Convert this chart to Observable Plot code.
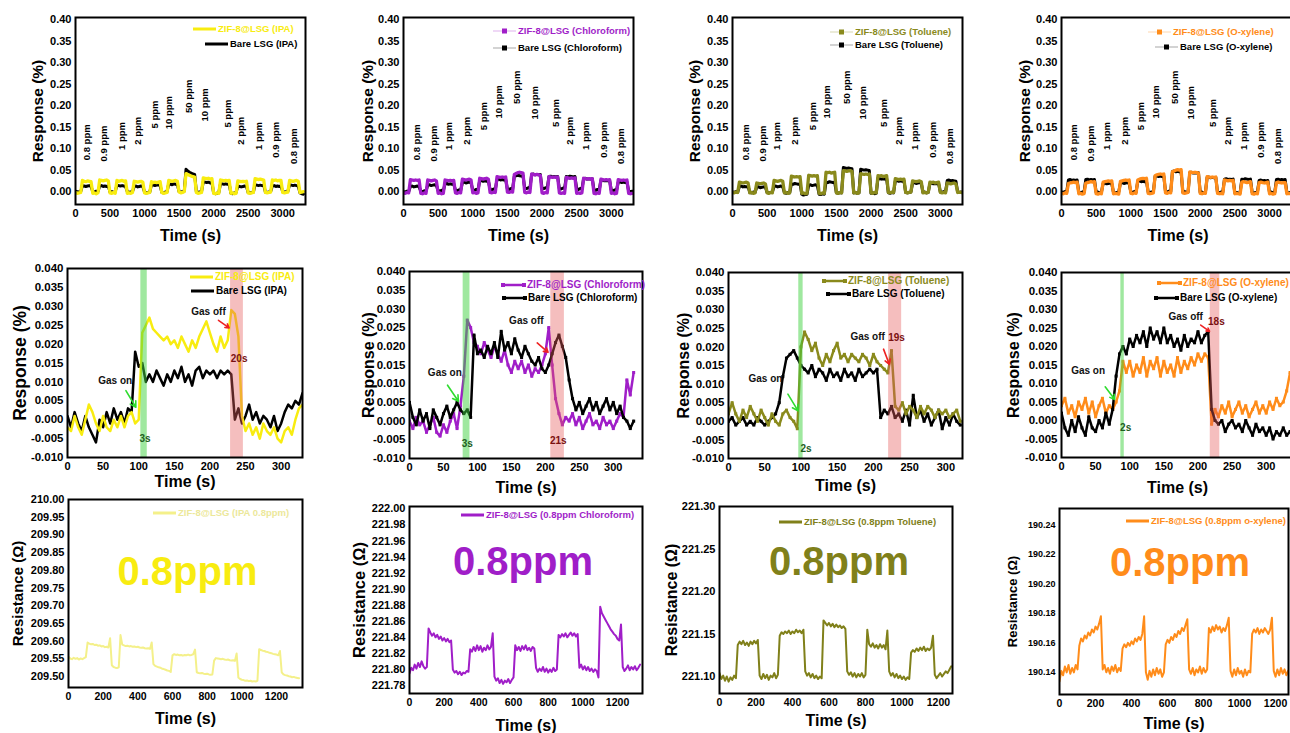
<!DOCTYPE html>
<html><head><meta charset="utf-8">
<script src="https://cdn.jsdelivr.net/npm/d3@7"></script>
<script src="https://cdn.jsdelivr.net/npm/@observablehq/plot@0.6"></script>
<style>
body{margin:0;background:#fff;}
#fig{position:relative;width:1290px;height:733px;overflow:hidden;background:#fff;font-family:Arial,"Liberation Sans",sans-serif;font-weight:bold;}
.leg{position:absolute;display:flex;align-items:center;height:10px;white-space:nowrap;font-weight:bold;line-height:1;}
</style></head><body><div id="fig"></div>
<script>
// ---------- colours ----------
const YEL = "#f8ec10", PUR = "#a01ec8", OLV = "#8a8a1c", ORG = "#ff8c1a";
const YEL_PALE = "#f4f08a", OLV3 = "#80801a";

// ---------- row 1: concentration sweep, 25 s samples, 0-3300 s ----------
const T1 = d3.range(0, 3301, 25);
const ppmLabels = ["0.8 ppm","0.9 ppm","1 ppm","2 ppm","5 ppm","10 ppm","50 ppm","10 ppm","5 ppm","2 ppm","1 ppm","0.9 ppm","0.8 ppm"];
const ppmXIpa = [160,408,670,900,1150,1355,1645,1880,2210,2390,2650,2900,3160];
const ppmXChl = [192,442,658,912,1162,1378,1642,1891,2194,2400,2640,2890,3139];
const ppmXTol = [192,446,648,898,1162,1368,1656,1882,2184,2400,2640,2894,3144];
const ppmXXyl = [182,431,651,910,1150,1365,1638,1868,2184,2395,2635,2874,3128];
const ppmYIpa = [0.073,0.070,0.097,0.109,0.147,0.145,0.183,0.163,0.149,0.109,0.097,0.079,0.064];
const ppmYOther = [0.073,0.070,0.097,0.109,0.143,0.170,0.204,0.168,0.150,0.109,0.097,0.079,0.064];

const r1IpaZif = [
-0.002,-0.004,-0.003,-0.002,0.026,0.024,0.023,0.025,0.024,0.023,
-0.004,-0.003,-0.005,-0.003,0.027,0.026,0.025,0.026,0.027,0.025,
-0.003,-0.004,-0.002,-0.004,0.026,0.024,0.025,0.026,0.024,0.025,
-0.004,-0.003,-0.004,-0.002,0.024,0.023,0.022,0.023,0.024,0.022,
-0.003,-0.004,-0.003,-0.002,0.023,0.021,0.022,0.021,0.022,0.023,
-0.002,-0.004,-0.003,-0.002,0.026,0.025,0.024,0.025,0.026,0.024,
-0.001,-0.003,-0.002,0.000,0.042,0.040,0.038,0.036,0.035,0.034,
-0.002,-0.004,-0.003,-0.002,0.032,0.031,0.030,0.031,0.029,0.030,
-0.004,-0.005,-0.003,-0.004,0.027,0.026,0.025,0.026,0.025,0.026,
-0.004,-0.003,-0.005,-0.004,0.025,0.024,0.023,0.024,0.023,0.024,
-0.003,-0.004,-0.003,-0.002,0.030,0.029,0.028,0.029,0.028,0.027,
-0.002,-0.003,-0.002,-0.001,0.027,0.026,0.027,0.025,0.026,0.026,
-0.002,-0.003,-0.002,-0.001,0.026,0.025,0.024,0.025,0.026,0.024,
-0.002,-0.001,0.000];
const r1IpaBare = [
0.001,0.000,-0.001,0.000,0.014,0.013,0.012,0.013,0.014,0.012,
0.000,-0.001,0.001,0.000,0.013,0.014,0.012,0.013,0.012,0.013,
-0.001,0.000,-0.002,0.000,0.015,0.014,0.013,0.014,0.013,0.012,
0.000,-0.002,-0.001,0.000,0.012,0.013,0.011,0.012,0.013,0.012,
-0.001,-0.003,-0.002,-0.001,0.016,0.015,0.014,0.015,0.016,0.014,
-0.002,-0.003,-0.001,0.000,0.018,0.017,0.016,0.018,0.017,0.016,
0.000,-0.001,0.000,0.001,0.052,0.048,0.045,0.043,0.041,0.040,
0.000,-0.002,-0.001,0.000,0.023,0.022,0.021,0.022,0.020,0.021,
-0.003,-0.005,-0.004,-0.002,0.019,0.018,0.017,0.018,0.017,0.018,
-0.004,-0.005,-0.003,-0.002,0.013,0.012,0.011,0.012,0.013,0.012,
-0.002,-0.003,-0.002,-0.001,0.016,0.015,0.014,0.015,0.014,0.015,
-0.001,-0.002,-0.001,0.000,0.013,0.014,0.012,0.013,0.012,0.013,
0.000,-0.001,0.000,0.001,0.016,0.015,0.014,0.015,0.014,0.013,
-0.003,-0.005,-0.006];
const r1ChlZif = [
-0.003,-0.004,-0.002,-0.003,0.028,0.027,0.026,0.027,0.026,0.027,
-0.004,-0.005,-0.003,-0.004,0.027,0.026,0.025,0.026,0.027,0.025,
-0.004,-0.003,-0.005,-0.004,0.027,0.026,0.025,0.026,0.025,0.026,
-0.003,-0.004,-0.002,-0.003,0.029,0.028,0.027,0.028,0.029,0.027,
-0.003,-0.002,-0.004,-0.003,0.031,0.030,0.029,0.030,0.031,0.029,
-0.002,-0.003,-0.001,-0.002,0.035,0.034,0.033,0.034,0.033,0.034,
-0.001,-0.002,0.000,-0.001,0.040,0.042,0.044,0.045,0.044,0.043,
-0.002,-0.003,-0.001,-0.002,0.041,0.040,0.039,0.040,0.039,0.038,
-0.003,-0.004,-0.002,-0.003,0.035,0.034,0.033,0.034,0.033,0.034,
-0.003,-0.004,-0.003,-0.004,0.033,0.032,0.031,0.032,0.031,0.032,
-0.004,-0.003,-0.004,-0.003,0.031,0.030,0.029,0.030,0.029,0.030,
-0.004,-0.005,-0.003,-0.004,0.029,0.028,0.027,0.028,0.027,0.028,
-0.004,-0.003,-0.005,-0.004,0.028,0.027,0.026,0.027,0.026,0.027,
-0.004,-0.005,-0.004];
const r1ChlBare = [
0.000,-0.001,0.001,0.000,0.012,0.013,0.011,0.012,0.013,0.011,
0.001,0.000,0.002,0.001,0.015,0.016,0.014,0.015,0.016,0.014,
0.002,0.001,0.003,0.002,0.018,0.019,0.017,0.018,0.017,0.018,
0.003,0.002,0.004,0.003,0.021,0.022,0.020,0.021,0.022,0.020,
0.004,0.003,0.005,0.004,0.025,0.026,0.024,0.025,0.024,0.025,
0.005,0.004,0.006,0.005,0.028,0.029,0.027,0.028,0.027,0.028,
0.006,0.005,0.007,0.006,0.036,0.037,0.038,0.037,0.036,0.037,
0.008,0.007,0.009,0.008,0.040,0.041,0.039,0.040,0.039,0.040,
0.008,0.007,0.009,0.008,0.035,0.036,0.034,0.035,0.034,0.035,
0.007,0.006,0.008,0.007,0.035,0.034,0.036,0.035,0.034,0.035,
0.006,0.005,0.007,0.006,0.030,0.031,0.029,0.030,0.029,0.030,
0.004,0.003,0.005,0.004,0.026,0.027,0.025,0.026,0.025,0.026,
0.003,0.002,0.004,0.003,0.022,0.023,0.021,0.022,0.021,0.022,
0.002,0.000,0.001];
const r1TolZif = [
-0.002,-0.003,-0.001,-0.002,0.022,0.021,0.020,0.021,0.022,0.020,
-0.003,-0.002,-0.004,-0.003,0.020,0.019,0.018,0.019,0.020,0.018,
-0.003,-0.004,-0.002,-0.003,0.026,0.025,0.024,0.025,0.026,0.024,
-0.003,-0.002,-0.004,-0.003,0.036,0.035,0.034,0.035,0.034,0.035,
-0.004,-0.003,-0.005,-0.004,0.038,0.037,0.036,0.037,0.036,0.037,
-0.004,-0.005,-0.003,-0.004,0.045,0.044,0.045,0.043,0.044,0.045,
-0.003,-0.004,-0.002,-0.003,0.049,0.048,0.047,0.048,0.049,0.047,
-0.003,-0.002,-0.004,-0.003,0.042,0.041,0.040,0.041,0.040,0.041,
-0.003,-0.004,-0.002,-0.003,0.037,0.036,0.037,0.035,0.036,0.037,
-0.002,-0.003,-0.001,-0.002,0.030,0.029,0.028,0.029,0.028,0.029,
-0.002,-0.003,-0.002,-0.001,0.025,0.024,0.023,0.024,0.025,0.023,
-0.003,-0.002,-0.003,-0.002,0.022,0.021,0.022,0.020,0.021,0.022,
-0.002,-0.003,-0.002,-0.003,0.020,0.019,0.018,0.019,0.020,0.018,
-0.002,-0.001,-0.002];
const r1TolBare = [
-0.001,-0.002,0.000,-0.001,0.012,0.013,0.011,0.012,0.011,0.012,
-0.002,-0.003,-0.001,-0.002,0.010,0.011,0.009,0.010,0.011,0.010,
-0.002,-0.003,-0.002,-0.001,0.012,0.013,0.011,0.012,0.013,0.011,
-0.003,-0.004,-0.002,-0.003,0.018,0.017,0.019,0.018,0.017,0.018,
-0.006,-0.008,-0.007,-0.006,0.015,0.016,0.014,0.015,0.016,0.014,
-0.006,-0.007,-0.005,-0.006,0.022,0.021,0.023,0.022,0.021,0.022,
-0.003,-0.004,-0.002,-0.003,0.056,0.055,0.054,0.055,0.054,0.053,
-0.003,-0.002,-0.004,-0.003,0.052,0.051,0.050,0.051,0.050,0.049,
-0.004,-0.003,-0.005,-0.004,0.031,0.030,0.029,0.030,0.029,0.030,
-0.003,-0.004,-0.002,-0.003,0.025,0.026,0.024,0.025,0.024,0.025,
-0.002,-0.003,-0.002,-0.001,0.020,0.021,0.019,0.020,0.021,0.019,
-0.002,-0.001,-0.003,-0.002,0.019,0.020,0.018,0.019,0.018,0.019,
-0.001,-0.002,0.000,-0.001,0.026,0.027,0.025,0.026,0.025,0.024,
-0.001,-0.002,-0.001];
const r1XylZif = [
-0.004,-0.005,-0.003,-0.004,0.019,0.020,0.021,0.022,0.021,0.022,
-0.005,-0.004,-0.006,-0.005,0.020,0.021,0.022,0.023,0.022,0.023,
-0.005,-0.006,-0.004,-0.005,0.022,0.023,0.024,0.025,0.024,0.025,
-0.005,-0.004,-0.005,-0.006,0.024,0.025,0.026,0.027,0.026,0.027,
-0.004,-0.005,-0.003,-0.004,0.027,0.029,0.030,0.031,0.030,0.031,
-0.004,-0.005,-0.004,-0.003,0.037,0.039,0.040,0.041,0.040,0.041,
-0.003,-0.004,-0.002,-0.003,0.046,0.048,0.050,0.051,0.050,0.051,
-0.003,-0.004,-0.003,-0.002,0.046,0.045,0.044,0.045,0.044,0.043,
-0.004,-0.005,-0.003,-0.004,0.035,0.034,0.033,0.034,0.033,0.034,
-0.004,-0.005,-0.004,-0.005,0.027,0.026,0.025,0.026,0.025,0.026,
-0.005,-0.004,-0.005,-0.006,0.022,0.023,0.022,0.021,0.022,0.023,
-0.005,-0.006,-0.004,-0.005,0.021,0.022,0.021,0.020,0.021,0.022,
-0.005,-0.004,-0.006,-0.005,0.021,0.022,0.021,0.020,0.021,0.021,
-0.005,-0.004,-0.005];
const r1XylBare = [
-0.001,-0.002,0.000,-0.001,0.027,0.028,0.026,0.027,0.026,0.027,
-0.002,-0.003,-0.001,-0.002,0.028,0.029,0.027,0.028,0.027,0.028,
-0.002,-0.001,-0.003,-0.002,0.019,0.020,0.018,0.019,0.020,0.018,
-0.002,-0.003,-0.002,-0.001,0.020,0.021,0.019,0.020,0.021,0.019,
-0.001,-0.002,0.000,-0.001,0.024,0.025,0.023,0.024,0.023,0.024,
-0.001,-0.002,-0.001,0.000,0.036,0.037,0.035,0.036,0.035,0.036,
0.000,-0.001,0.001,0.000,0.047,0.048,0.046,0.047,0.046,0.045,
-0.001,0.000,-0.002,-0.001,0.044,0.045,0.043,0.044,0.043,0.044,
-0.002,-0.001,-0.003,-0.002,0.033,0.034,0.032,0.033,0.032,0.033,
-0.002,-0.003,-0.001,-0.002,0.029,0.030,0.028,0.029,0.028,0.029,
-0.003,-0.002,-0.004,-0.003,0.029,0.028,0.030,0.029,0.028,0.029,
-0.002,-0.003,-0.002,-0.001,0.026,0.027,0.025,0.026,0.025,0.026,
-0.002,-0.001,-0.003,-0.002,0.028,0.029,0.027,0.028,0.027,0.028,
-0.002,-0.003,-0.002];

// ---------- row 2: single exposure, 5 s samples ----------
const r2IpaZif = [-0.002,-0.003,0.001,-0.002,-0.004,0.000,0.004,0.002,-0.001,-0.003,0.001,-0.002,-0.003,0.000,-0.002,0.001,-0.002,0.001,0.002,-0.001,0.000,
0.023,0.025,0.027,0.024,0.023,0.022,0.021,0.022,0.020,0.021,0.019,0.022,0.020,0.018,0.021,0.019,0.022,0.024,0.026,0.023,0.020,0.018,0.022,0.019,0.021,0.029,0.028,0.022,
0.001,-0.003,-0.001,-0.004,-0.002,-0.005,-0.001,-0.003,-0.004,-0.002,-0.005,-0.006,-0.003,-0.002,-0.004,0.000,0.003,0.004];
const r2IpaBare = [0.001,-0.002,0.002,-0.001,-0.003,0.001,-0.002,-0.004,-0.006,0.000,-0.002,0.002,-0.001,0.003,0.000,0.002,-0.001,0.003,0.002,
0.018,0.014,0.015,0.010,0.012,0.010,0.013,0.011,0.009,0.012,0.010,0.013,0.011,0.014,0.010,0.012,0.009,0.013,0.014,0.011,0.013,0.012,0.013,0.011,0.013,0.012,0.013,0.012,
0.000,0.003,-0.001,0.001,0.004,0.000,0.002,-0.001,0.001,0.000,-0.002,0.001,-0.003,-0.001,0.002,0.004,0.003,0.005,0.004,0.007];
const r2ChlZif = [0.000,-0.002,0.001,-0.001,0.000,-0.003,-0.001,0.001,-0.003,-0.004,-0.001,-0.003,0.000,0.002,-0.002,0.004,
0.012,0.027,0.025,0.021,0.020,0.018,0.021,0.019,0.017,0.020,0.018,0.016,0.019,0.015,0.013,0.016,0.014,0.016,0.013,0.015,0.012,0.014,0.013,0.015,0.018,
0.025,0.015,0.006,0.002,-0.001,0.001,0.000,0.002,-0.001,0.001,-0.002,0.000,0.002,-0.001,0.000,-0.002,0.001,-0.001,0.000,-0.002,0.000,0.002,0.001,0.011,0.007,0.013];
const r2ChlBare = [0.005,0.001,-0.001,0.003,0.000,0.002,-0.002,0.003,0.001,-0.001,0.002,0.004,0.001,0.003,0.005,0.003,0.002,0.003,0.001,
0.023,0.018,0.019,0.017,0.020,0.018,0.021,0.017,0.024,0.019,0.021,0.018,0.022,0.019,0.017,0.020,0.018,0.016,0.015,0.017,0.014,0.013,0.015,0.018,0.021,0.023,0.020,0.017,
0.011,0.006,0.003,0.005,0.002,0.004,0.006,0.003,0.005,0.002,0.004,0.006,0.003,0.005,0.002,0.004,0.001,0.000,-0.002,0.000];
const r2TolZif = [0.002,0.005,0.002,0.000,0.003,0.001,0.004,0.002,0.000,0.003,0.001,-0.001,0.002,0.000,-0.001,0.002,0.003,0.001,0.000,-0.002,
0.020,0.024,0.022,0.019,0.021,0.017,0.015,0.018,0.016,0.019,0.021,0.017,0.018,0.016,0.018,0.017,0.016,0.018,0.017,0.015,0.018,0.016,0.015,0.014,0.013,0.019,
0.004,0.003,0.005,0.002,0.004,0.003,0.001,0.004,0.002,0.004,0.003,0.001,0.003,0.002,0.003,0.001,0.002,0.003,0.000];
const r2TolBare = [0.000,0.001,-0.001,0.000,0.001,-0.001,0.000,-0.001,0.001,0.000,-0.001,0.000,0.001,
0.002,0.005,0.012,0.017,0.018,0.019,0.017,0.015,0.014,0.013,0.015,0.012,0.014,0.013,0.011,0.014,0.012,0.013,0.011,0.014,0.012,0.013,0.011,0.014,0.012,0.013,0.014,0.013,0.014,
0.001,0.003,0.002,0.004,0.001,0.002,0.000,0.003,-0.001,0.007,0.001,0.003,0.000,0.002,-0.001,0.001,0.003,-0.002,0.001,-0.001,0.002,0.000,-0.001];
const r2XylZif = [0.004,0.006,0.002,0.004,0.001,0.005,0.003,0.006,0.002,0.005,0.001,0.004,0.006,0.002,0.004,0.003,0.005,0.008,
0.016,0.013,0.016,0.012,0.015,0.013,0.017,0.012,0.016,0.014,0.017,0.012,0.016,0.013,0.015,0.012,0.017,0.013,0.016,0.014,0.017,0.015,0.018,0.016,0.018,0.017,
-0.001,0.003,0.001,0.004,0.002,0.005,0.001,0.003,0.005,0.002,0.004,0.001,0.003,0.005,0.002,0.004,0.002,0.005,0.003,0.006,0.004,0.005,0.008,0.013];
const r2XylBare = [0.002,-0.002,-0.004,0.000,-0.003,0.001,-0.002,-0.004,0.001,-0.002,-0.003,0.000,-0.002,0.002,-0.001,0.003,
0.012,0.018,0.020,0.018,0.022,0.020,0.023,0.021,0.024,0.020,0.025,0.022,0.024,0.021,0.025,0.021,0.023,0.020,0.022,0.019,0.023,0.020,0.022,0.021,0.024,0.021,0.023,0.024,
0.003,0.000,-0.001,0.000,-0.003,-0.001,0.000,-0.002,-0.001,-0.003,0.000,-0.002,-0.004,-0.001,-0.003,-0.002,-0.004,-0.002,-0.005,-0.003,-0.004,-0.002,-0.004,-0.003];

// gas on / off windows and annotations (IPA, Chloroform, Toluene, O-xylene)
const bandOn  = [[103,112],[79,89],[97,103],[87,92]];
const bandOff = [[229,247],[208,228],[221,239],[218,232]];
const gasOnPos  = [[67,0.0104],[52,0.0128],[51,0.0113],[39,0.0133]];
const gasOnArrow = [[82,0.0077,96,0.0033],[56,0.0096,72,0.0053],[82,0.0073,96,0.0028],[64,0.0091,78,0.0057]];
const onTime  = [["3s",109,-0.005],["3s",85,-0.0062],["2s",107,-0.0073],["2s",94,-0.002]];
const gasOffPos = [[198,0.0285],[172,0.0269],[192,0.0227],[182,0.0280]];
const gasOffArrow = [[212,0.0263,227,0.0243],[188,0.0209,204,0.0184],[214,0.0194,222,0.0153],[204,0.0258,217,0.0241]];
const offTime = [["20s",241,0.0161],["21s",219,-0.0053],["19s",232,0.0225],["18s",227,0.0266]];

// ---------- row 3: repeated 0.8 ppm, resistance, 10 s samples ----------
const r3Ipa = [209.556,209.551,209.549,209.553,209.550,209.552,209.548,209.551,209.549,209.552,209.555,
209.596,209.593,209.591,209.592,209.589,209.590,209.587,209.588,209.585,209.586,209.583,209.584,209.582,209.608,
209.532,209.527,209.525,209.524,209.526,
209.617,209.590,209.588,209.586,209.587,209.585,209.586,209.584,209.585,209.583,209.584,209.582,209.581,209.582,209.580,209.579,209.580,209.578,209.596,
209.535,209.530,209.528,209.526,209.525,209.522,209.521,209.519,209.517,209.516,209.513,
209.560,209.563,209.561,209.562,209.560,209.561,209.559,209.561,209.560,209.562,209.560,209.561,209.563,209.576,
209.512,209.510,209.509,209.510,209.508,209.507,209.508,209.506,209.505,209.506,
209.545,209.552,209.551,209.550,209.549,209.550,209.548,209.547,209.548,209.546,209.545,209.546,209.544,209.565,
209.497,209.493,209.491,209.490,209.488,209.489,209.487,209.488,209.486,209.487,209.486,209.488,
209.577,209.575,209.573,209.572,209.570,209.569,209.567,209.566,209.564,209.563,209.562,209.560,209.572,
209.512,209.506,209.504,209.503,209.501,209.500,209.498,209.499,209.497,209.496,209.495];
const r3Chl = [221.795,221.802,221.799,221.806,221.801,221.808,221.803,221.810,221.804,221.801,221.803,
221.851,221.846,221.842,221.845,221.840,221.843,221.838,221.841,221.836,221.839,221.835,221.838,221.834,221.836,
221.800,221.796,221.798,221.794,221.797,221.793,221.796,221.795,221.798,221.797,
221.825,221.822,221.828,221.823,221.830,221.824,221.829,221.822,221.827,221.824,221.830,221.825,221.828,221.845,
221.791,221.786,221.789,221.783,221.787,221.782,221.786,221.784,221.788,221.783,221.787,221.790,
221.830,221.824,221.828,221.823,221.829,221.825,221.830,221.824,221.827,221.823,221.828,221.826,
221.802,221.797,221.801,221.798,221.803,221.797,221.801,221.796,221.800,221.797,221.802,221.798,221.800,
221.843,221.840,221.844,221.841,221.845,221.840,221.843,221.846,221.842,221.845,221.841,221.844,
221.802,221.806,221.800,221.804,221.799,221.803,221.798,221.801,221.797,221.800,221.798,221.790,
221.878,221.870,221.866,221.862,221.858,221.854,221.850,221.847,221.844,221.842,221.838,221.836,221.856,
221.803,221.798,221.801,221.805,221.799,221.803,221.800,221.804,221.799,221.802,221.806];
const r3Tol = [221.104,221.097,221.101,221.095,221.100,221.094,221.099,221.096,221.101,221.098,
221.137,221.141,221.138,221.142,221.137,221.140,221.136,221.141,221.138,221.142,221.139,221.143,
221.101,221.097,221.103,221.098,221.102,221.096,221.101,221.099,221.104,221.098,221.102,
221.148,221.152,221.150,221.153,221.151,221.154,221.150,221.153,221.151,221.155,221.152,221.154,221.151,221.155,
221.106,221.101,221.104,221.099,221.103,221.098,221.101,221.097,221.100,221.098,
221.166,221.163,221.160,221.163,221.159,221.162,221.158,221.161,221.158,221.160,221.157,221.159,221.156,
221.106,221.102,221.105,221.100,221.104,221.099,221.103,221.100,221.104,221.099,221.102,
221.155,221.138,221.135,221.139,221.134,221.137,221.133,221.138,221.134,221.137,221.132,221.154,
221.106,221.101,221.104,221.099,221.103,221.098,221.101,221.097,221.100,221.096,221.099,221.097,
221.128,221.131,221.129,221.133,221.130,221.134,221.131,221.135,221.130,221.133,221.131,221.134,221.148,
221.102,221.098,221.101,221.104,221.100,221.103,221.106,221.104,221.108,221.112];
const r3Xyl = [190.134,190.141,190.138,190.144,190.140,190.145,190.139,190.143,190.140,190.145,190.142,
190.158,190.163,190.161,190.165,190.163,190.167,190.165,190.169,190.167,190.171,190.169,190.173,190.178,
190.142,190.145,190.140,190.143,190.139,190.144,190.141,190.145,190.140,190.143,190.141,
190.156,190.159,190.157,190.160,190.158,190.161,190.159,190.163,190.161,190.164,190.162,190.166,190.178,
190.140,190.135,190.141,190.137,190.142,190.138,190.143,190.139,190.142,190.137,190.140,
190.159,190.162,190.160,190.164,190.162,190.166,190.164,190.168,190.166,190.170,190.168,190.172,190.176,
190.142,190.139,190.143,190.138,190.142,190.140,190.144,190.139,190.143,190.140,190.142,
190.170,190.167,190.171,190.168,190.172,190.169,190.171,190.167,190.170,190.168,190.172,190.177,
190.141,190.137,190.142,190.138,190.143,190.139,190.141,190.137,190.142,190.138,190.141,190.140,
190.166,190.169,190.167,190.170,190.166,190.169,190.167,190.170,190.168,190.166,190.169,190.177,
190.141,190.137,190.142,190.138,190.143,190.139,190.142,190.138,190.141];

// ---------- tick values ----------
const r1XTicks = [0,500,1000,1500,2000,2500,3000];
const r1YTicks = [0,0.05,0.10,0.15,0.20,0.25,0.30,0.35,0.40];
const r2XTicks = [0,50,100,150,200,250,300];
const r2YTicks = [-0.010,-0.005,0,0.005,0.010,0.015,0.020,0.025,0.030,0.035,0.040];
const r3XTicks = [0,200,400,600,800,1000,1200];
const r3YTicksIpa = [209.50,209.55,209.60,209.65,209.70,209.75,209.80,209.85,209.90,209.95,210.00];
const r3YTicksChl = [221.78,221.80,221.82,221.84,221.86,221.88,221.90,221.92,221.94,221.96,221.98,222.00];
const r3YTicksTol = [221.10,221.15,221.20,221.25,221.30];
const r3YTicksXyl = [190.14,190.16,190.18,190.20,190.22,190.24];

// ---------- drawing ----------
const fig = document.getElementById("fig");
const ML = 90, MR = 14, MT = 14, MB = 50;

function addPlot(c, marks) {
  const svg = Plot.plot({
    width: c.w + ML + MR, height: c.h + MT + MB,
    marginLeft: ML, marginRight: MR, marginTop: MT, marginBottom: MB,
    x: {domain: c.xDom}, y: {domain: c.yDom},
    style: {background: "transparent", overflow: "visible", maxWidth: "none",
            fontFamily: "Arial, 'Liberation Sans', sans-serif", fontWeight: "bold", color: "black"},
    marks
  });
  svg.style.position = "absolute";
  svg.style.left = (c.x - ML) + "px";
  svg.style.top = (c.y - MT) + "px";
  fig.appendChild(svg);
}

function frameMarks(c) {
  return [
    Plot.axisX({ticks: c.xTicks, tickSize: 0, tickPadding: 5, fontSize: c.xfs, tickFormat: d => String(d), label: null}),
    Plot.axisY({ticks: c.yTicks, tickSize: 0, tickPadding: 4, fontSize: c.yfs, tickFormat: d => d.toFixed(c.dec), label: null}),
    Plot.frame({stroke: "black", strokeWidth: 2}),
    Plot.text([c.yLabel], {frameAnchor: "left", text: d => d, rotate: -90, textAnchor: "middle", lineAnchor: "middle", dx: -c.yOff, fontSize: c.yLfs}),
    Plot.text(["Time (s)"], {frameAnchor: "bottom", text: d => d, textAnchor: "middle", lineAnchor: "middle", dy: c.xOff, fontSize: 16})
  ];
}

function swatch(kind, color) {
  const w = 23;
  let s = `<svg width="${w}" height="10" style="display:block;overflow:visible;margin-right:2px">`;
  if (kind === "line") s += `<line x1="0" x2="${w}" y1="5" y2="5" stroke="${color}" stroke-width="3"/>`;
  if (kind === "pt") s += `<line x1="0" x2="${w}" y1="5" y2="5" stroke="${color}" stroke-opacity="0.35" stroke-width="1"/><rect x="${w/2-2.5}" y="2.5" width="5" height="5" fill="${color}"/>`;
  if (kind === "lpt") s += `<line x1="1" x2="${w-1}" y1="5" y2="5" stroke="${color}" stroke-width="2.5"/><rect x="-1" y="3" width="4" height="4" fill="${color}"/><rect x="${w-3}" y="3" width="4" height="4" fill="${color}"/>`;
  return s + "</svg>";
}
function legend(items, fs) {
  for (const it of items) {
    const d = document.createElement("div");
    d.className = "leg";
    d.style.left = (it.x - 25) + "px";
    d.style.top = (it.y - 5) + "px";
    d.style.fontSize = fs + "px";
    d.style.color = it.tc;
    d.innerHTML = swatch(it.kind, it.color) + `<span>${it.text}</span>`;
    fig.appendChild(d);
  }
}

// ---- row 1 ----
const R1 = [
  {x:75,  w:230, xDom:[0,3330], yOff:37, zif:r1IpaZif, bare:r1IpaBare, col:YEL, px:ppmXIpa, py:ppmYIpa, name:"IPA", kind:"line", leg:[[218,29],[230,44]]},
  {x:403, w:230, xDom:[0,3320], yOff:35, zif:r1ChlZif, bare:r1ChlBare, col:PUR, px:ppmXChl, py:ppmYOther, name:"Chloroform", kind:"pt", leg:[[518,31],[518,48]]},
  {x:732, w:230, xDom:[0,3320], yOff:37, zif:r1TolZif, bare:r1TolBare, col:OLV, px:ppmXTol, py:ppmYOther, name:"Toluene", kind:"pt", leg:[[855,32],[855,45]]},
  {x:1061,w:233, xDom:[0,3360], yOff:36, zif:r1XylZif, bare:r1XylBare, col:ORG, px:ppmXXyl, py:ppmYOther, name:"O-xylene", kind:"pt", leg:[[1173,32],[1180,47]]}
];
for (const p of R1) {
  const c = Object.assign({y:17, h:187, yDom:[-0.03,0.405], xTicks:r1XTicks, yTicks:r1YTicks, dec:2, xfs:11, yfs:11,
    yLabel:"Response (%)", yLfs:15.5, xOff:31}, p);
  addPlot(c, [
    Plot.line(c.bare, {x: T1, y: d => d, stroke: "black", strokeWidth: 3, clip: true}),
    Plot.line(c.zif, {x: T1, y: d => d, stroke: c.col, strokeWidth: 3.3, clip: true}),
    Plot.text(ppmLabels, {x: c.px, y: c.py, text: d => d, rotate: -90, textAnchor: "start", fontSize: 9.5}),
    ...frameMarks(c)
  ]);
  legend([
    {x:c.leg[0][0], y:c.leg[0][1], text:`ZIF-8@LSG (${c.name})`, color:c.col, tc:c.col, kind:c.kind},
    {x:c.leg[1][0], y:c.leg[1][1], text:`Bare LSG (${c.name})`, color:"#000", tc:"#000", kind:c.kind}
  ], 9.5);
}

// ---- row 2 ----
const R2 = [
  {x:67,  y:268, w:235, h:189, xDom:[0,330], yOff:47, xOff:24, yLfs:17.5, zif:r2IpaZif, bare:r2IpaBare, col:YEL, name:"IPA", kind:"line", zifTop:true,  dots:false, leg:[[215,277],[216,291]]},
  {x:409, y:271, w:233, h:187, xDom:[0,343], yOff:41, xOff:29, yLfs:16,   zif:r2ChlZif, bare:r2ChlBare, col:PUR, name:"Chloroform", kind:"lpt", zifTop:false, dots:true, leg:[[527,285],[528,298]]},
  {x:728, y:272, w:234, h:186, xDom:[0,323], yOff:45, xOff:27, yLfs:16,   zif:r2TolZif, bare:r2TolBare, col:OLV, name:"Toluene", kind:"lpt", zifTop:true,  dots:true, leg:[[848,281],[852,294]]},
  {x:1061,y:272, w:232, h:185, xDom:[0,340], yOff:48, xOff:30, yLfs:16,   zif:r2XylZif, bare:r2XylBare, col:ORG, name:"O-xylene", kind:"lpt", zifTop:false, dots:true, leg:[[1183,283],[1180,298]]}
];
R2.forEach((p, i) => {
  const c = Object.assign({yDom:[-0.010,0.040], xTicks:r2XTicks, yTicks:r2YTicks, dec:3, xfs:11, yfs:11.5, yLabel:"Response (%)"}, p);
  const tz = d3.range(0, c.zif.length * 5, 5), tb = d3.range(0, c.bare.length * 5, 5);
  const zifM = [Plot.line(c.zif, {x: tz, y: d => d, stroke: c.col, strokeWidth: 2.5, clip: true})];
  const bareM = [Plot.line(c.bare, {x: tb, y: d => d, stroke: "black", strokeWidth: 2.5, clip: true})];
  if (c.dots) {
    zifM.push(Plot.dot(c.zif, {x: tz, y: d => d, symbol: "square", r: 1.7, fill: c.col, clip: true}));
    bareM.push(Plot.dot(c.bare, {x: tb, y: d => d, symbol: "square", r: 1.7, fill: "black", clip: true}));
  }
  const series = c.zifTop ? [...bareM, ...zifM] : [...zifM, ...bareM];
  addPlot(c, [
    ...series,
    Plot.rect([0], {x1: [bandOn[i][0]], x2: [bandOn[i][1]], fill: "#3fd13f", fillOpacity: 0.5}),
    Plot.rect([0], {x1: [bandOff[i][0]], x2: [bandOff[i][1]], fill: "#e65c5c", fillOpacity: 0.4}),
    Plot.arrow([0], {x1: [gasOnArrow[i][0]], y1: [gasOnArrow[i][1]], x2: [gasOnArrow[i][2]], y2: [gasOnArrow[i][3]], stroke: "#2fdc2f", strokeWidth: 1.6, headLength: 6}),
    Plot.arrow([0], {x1: [gasOffArrow[i][0]], y1: [gasOffArrow[i][1]], x2: [gasOffArrow[i][2]], y2: [gasOffArrow[i][3]], stroke: "#ee2222", strokeWidth: 1.6, headLength: 6}),
    Plot.text(["Gas on"], {x: [gasOnPos[i][0]], y: [gasOnPos[i][1]], text: d => d, fontSize: 10, fill: "#111"}),
    Plot.text(["Gas off"], {x: [gasOffPos[i][0]], y: [gasOffPos[i][1]], text: d => d, fontSize: 10, fill: "#111"}),
    Plot.text([onTime[i][0]], {x: [onTime[i][1]], y: [onTime[i][2]], text: d => d, fontSize: 10, fill: "#1e5e1e"}),
    Plot.text([offTime[i][0]], {x: [offTime[i][1]], y: [offTime[i][2]], text: d => d, fontSize: 10, fill: "#7a1010"}),
    ...frameMarks(c)
  ]);
  legend([
    {x:c.leg[0][0], y:c.leg[0][1], text:`ZIF-8@LSG (${c.name})`, color:c.col, tc:c.col, kind:c.kind},
    {x:c.leg[1][0], y:c.leg[1][1], text:`Bare LSG (${c.name})`, color:"#000", tc:"#000", kind:c.kind}
  ], 10);
});

// ---- row 3 ----
const R3 = [
  {x:68,  y:499, w:234, h:188, xDom:[0,1350], yDom:[209.469,210.0],   yTicks:r3YTicksIpa, yfs:11, yLfs:15,   yOff:50, xOff:31, vals:r3Ipa, col:YEL_PALE, big:YEL, bigDy:73, bigDx:2,  leg:"ZIF-8@LSG (IPA 0.8ppm)", legTc:"#ece89a", lx:178, ly:513},
  {x:409, y:506, w:233, h:187, xDom:[0,1344], yDom:[221.77,222.003],  yTicks:r3YTicksChl, yfs:11, yLfs:16.5, yOff:50, xOff:32, vals:r3Chl, col:PUR, big:PUR, bigDy:56, bigDx:-3, leg:"ZIF-8@LSG (0.8ppm Chloroform)", legTc:PUR, lx:486, ly:515},
  {x:719, y:506, w:233, h:187, xDom:[0,1277], yDom:[221.08,221.30],   yTicks:r3YTicksTol, yfs:11, yLfs:16,   yOff:48, xOff:27, vals:r3Tol, col:OLV3, big:OLV3, bigDy:56, bigDx:3, leg:"ZIF-8@LSG (0.8ppm Toluene)", legTc:OLV3, lx:804, ly:522},
  {x:1059,y:508, w:229, h:186, xDom:[0,1272], yDom:[190.125,190.251], yTicks:r3YTicksXyl, yfs:9,  yLfs:13,   yOff:47, xOff:29, vals:r3Xyl, col:ORG, big:ORG, bigDy:55, bigDx:6, leg:"ZIF-8@LSG (0.8ppm o-xylene)", legTc:ORG, lx:1151, ly:521}
];
for (const p of R3) {
  const c = Object.assign({xTicks:r3XTicks, dec:2, xfs:10.5, yLabel:"Resistance (\u03A9)"}, p);
  const t = d3.range(0, c.vals.length * 10, 10);
  addPlot(c, [
    Plot.line(c.vals, {x: t, y: d => d, stroke: c.col, strokeWidth: 2, clip: true}),
    Plot.text(["0.8ppm"], {frameAnchor: "top", text: d => d, textAnchor: "middle", lineAnchor: "middle", dy: c.bigDy, dx: c.bigDx, fontSize: 40, fill: c.big}),
    ...frameMarks(c)
  ]);
  legend([{x:c.lx, y:c.ly, text:c.leg, color:c.col, tc:c.legTc, kind:"line"}], 9.5);
}
</script></body></html>
